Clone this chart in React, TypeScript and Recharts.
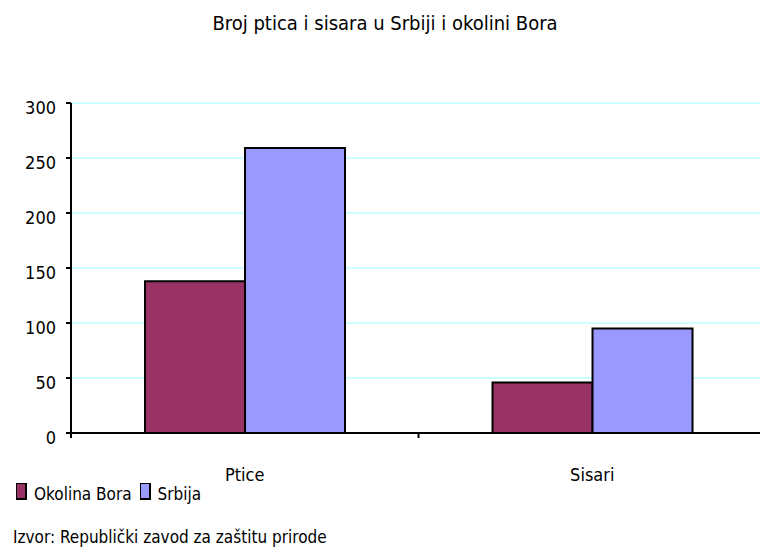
import React from 'react';
import { BarChart, Bar, XAxis, YAxis, CartesianGrid } from 'recharts';

const categories = ['Ptice', 'Sisari'];
const okolinaBora = [138, 46];
const srbija = [259, 95];
const yTicks = [0, 50, 100, 150, 200, 250, 300];

const chartData = categories.map((name, i) => ({
    name,
    bora: okolinaBora[i],
    srbija: srbija[i],
}));

const W = 760;
const H = 551;
// the plot runs a little past the right edge of the picture
const CHART_W = 766;
const MARGIN = { top: 103, right: 0, bottom: 68, left: 0 };
const Y_WIDTH = 71;
const FONT = '"Liberation Sans Narrow", "DejaVu Sans Condensed", "Liberation Sans", sans-serif';

const COLORS = {
    bora: '#993366',
    srbija: '#9999ff',
};

const PLOT_W = CHART_W - MARGIN.left - MARGIN.right - Y_WIDTH;
const BAND = PLOT_W / categories.length;

const CategoryTick = (props: any) => {
    const { x, y, payload, index } = props;
    return (
        <g>
            <line x1={x + BAND / 2} y1={y - 8} x2={x + BAND / 2} y2={y - 3} stroke="#000" strokeWidth={2} />
            {index === 0 && <line x1={x - BAND / 2} y1={y - 8} x2={x - BAND / 2} y2={y - 3} stroke="#000" strokeWidth={2} />}
            <text x={x} y={y + 40} textAnchor="middle" fontFamily={FONT} fontSize={18} fill="#000">
                {payload.value}
            </text>
        </g>
    );
};

const LegendItem = ({ color, label }: { color: string; label: string }) => (
    <span style={{ display: 'inline-flex', alignItems: 'center', marginRight: 8 }}>
        <span style={{ width: 8, height: 14, background: color, border: '2px solid #000', borderTopWidth: 1, borderLeftWidth: 1, marginRight: 7, marginTop: -6 }} />
        <span>{label}</span>
    </span>
);

export default function App() {
    return (
        <div style={{ position: 'absolute', left: 0, top: 0, width: W, height: H, overflow: 'hidden', background: '#fff', fontFamily: FONT }}>
            <div style={{ position: 'absolute', top: 11, left: 0, width: W + 10, textAlign: 'center', fontSize: 20, color: '#000' }}>
                Broj ptica i sisara u Srbiji i okolini Bora
            </div>
            <BarChart width={CHART_W} height={H} data={chartData} margin={MARGIN} barCategoryGap="21.3%" barGap={0}>
                <CartesianGrid vertical={false} stroke="#ccffff" strokeWidth={2} />
                <XAxis
                    dataKey="name"
                    stroke="#000"
                    strokeWidth={2}
                    tickLine={false}
                    tick={<CategoryTick />}
                    interval={0}
                    height={50}
                />
                <YAxis
                    domain={[0, 300]}
                    ticks={yTicks}
                    width={Y_WIDTH}
                    stroke="#000"
                    strokeWidth={2}
                    tickSize={5}
                    tick={{ fill: '#000', fontSize: 18, fontFamily: FONT, dy: 5 }}
                    tickMargin={10}
                    interval={0}
                />
                <Bar dataKey="bora" fill={COLORS.bora} stroke="#000" strokeWidth={2} isAnimationActive={false} />
                <Bar dataKey="srbija" fill={COLORS.srbija} stroke="#000" strokeWidth={2} isAnimationActive={false} />
            </BarChart>
            <div style={{ position: 'absolute', top: 484, left: 16, fontSize: 17, color: '#000', display: 'flex' }}>
                <LegendItem color={COLORS.bora} label="Okolina Bora" />
                <LegendItem color={COLORS.srbija} label="Srbija" />
            </div>
            <div style={{ position: 'absolute', top: 527, left: 13, fontSize: 17, color: '#000' }}>
                Izvor: Republički zavod za zaštitu prirode
            </div>
        </div>
    );
}
